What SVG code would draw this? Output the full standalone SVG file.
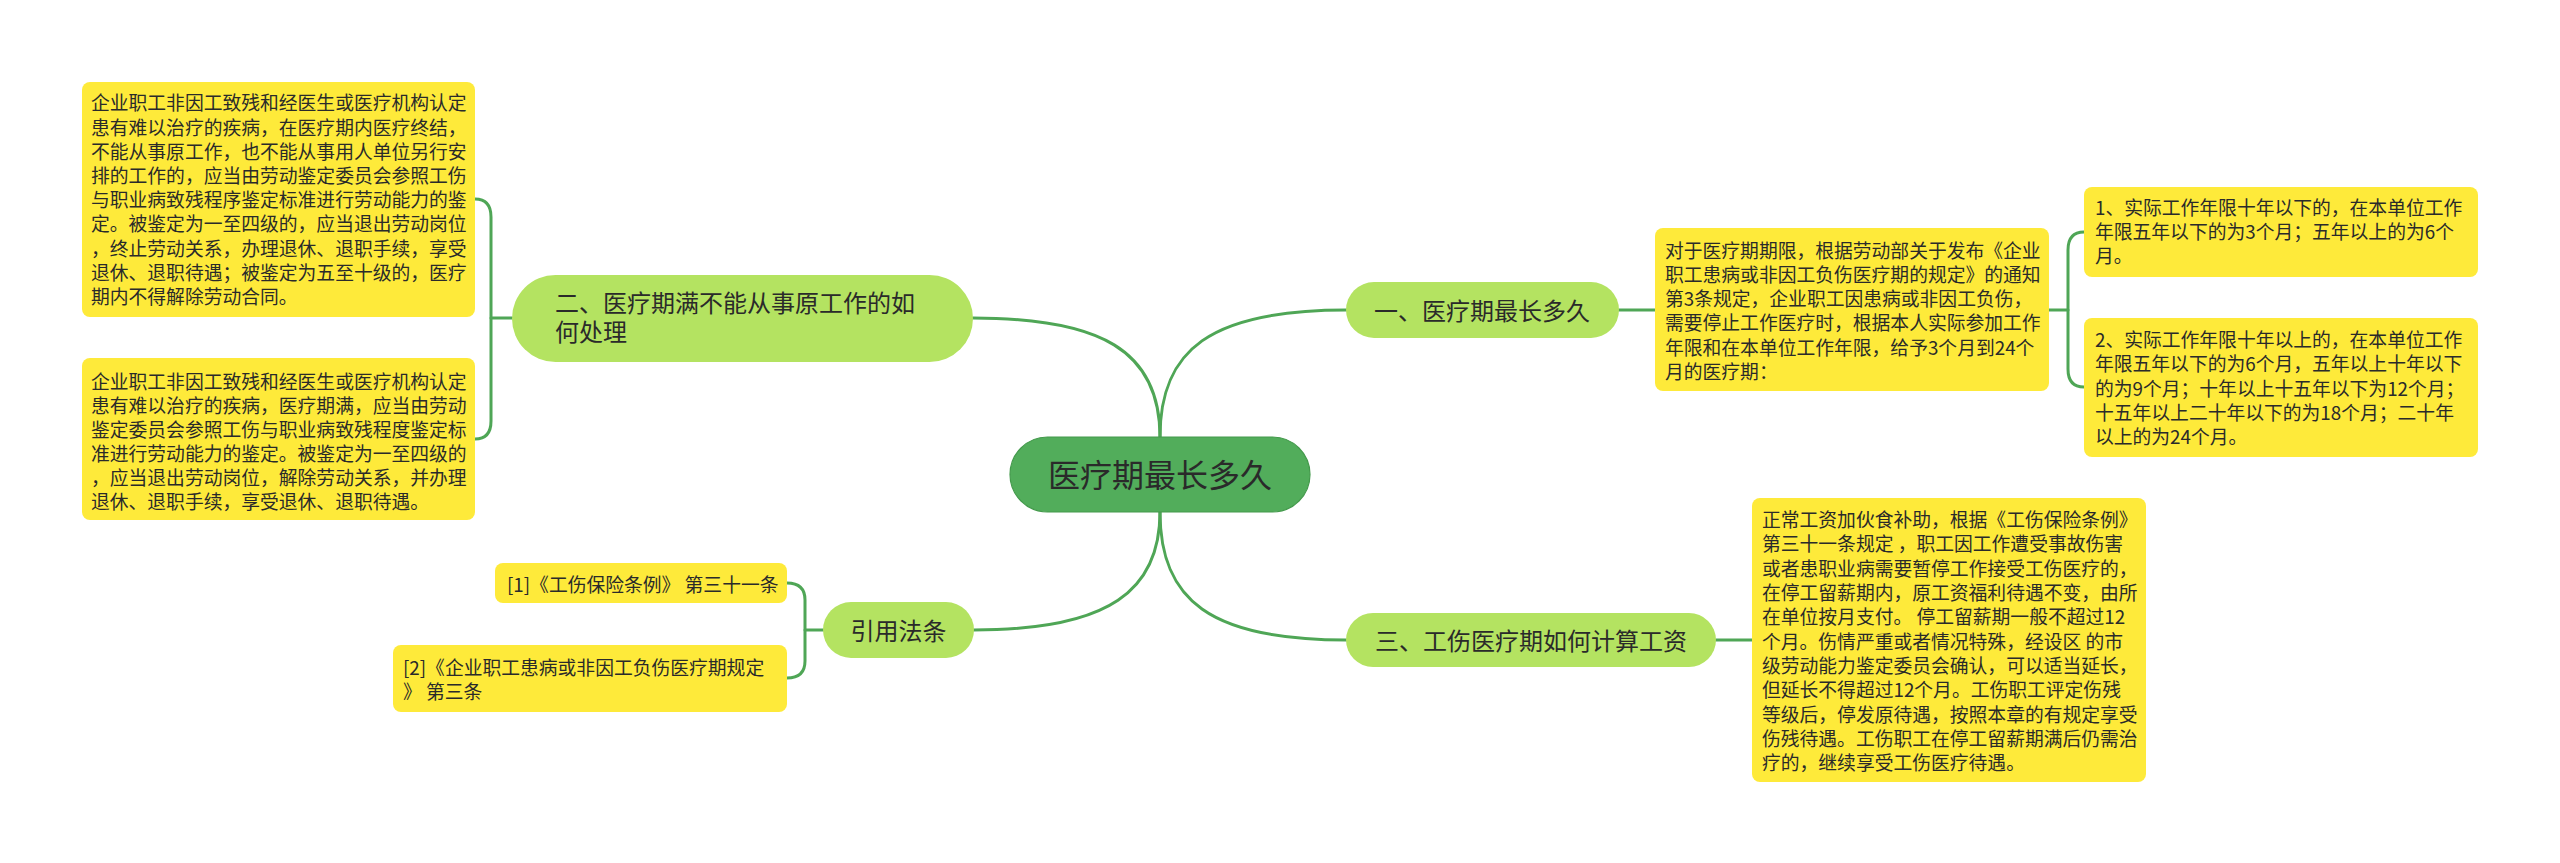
<svg xmlns="http://www.w3.org/2000/svg" width="2560" height="863" viewBox="0 0 2560 863">
<style>
.bg{fill:#ffffff}
.conn{fill:none;stroke:#4fa656;stroke-width:3;stroke-linecap:round}
.root{fill:#52ad5b;stroke:#449a4c;stroke-width:1.2}
.branch{fill:#b4e361}
.leaf{fill:#feea3a}
text{font-family:"Noto Sans CJK SC","Liberation Sans",sans-serif;fill:#2a2a2a}
.t-root{font-size:32px;text-anchor:middle}
.t-branch{font-size:24px}
.t-mid{text-anchor:middle}
.t-leaf{font-size:18.8px}
</style>
<rect class="bg" x="0" y="0" width="2560" height="863"/>

<g id="connectors">
  <path class="conn" d="M1160,437 C1160,350 1210,310 1346,310"/>
  <path class="conn" d="M1160,437 C1160,350 1100,318 973,318"/>
  <path class="conn" d="M1160,512 C1160,600 1210,640 1346,640"/>
  <path class="conn" d="M1160,512 C1160,590 1110,630 974,630"/>
  <path class="conn" d="M1619,310 L1655,310"/>
  <path class="conn" d="M2049,310 L2068,310"/>
  <path class="conn" d="M2084,232 Q2068,232 2068,250 L2068,369 Q2068,387 2084,387"/>
  <path class="conn" d="M1716,640 L1752,640"/>
  <path class="conn" d="M512,318 L491,318"/>
  <path class="conn" d="M475,199 Q491,199 491,217 L491,421 Q491,439 475,439"/>
  <path class="conn" d="M823,630 L805,630"/>
  <path class="conn" d="M787,583 Q805,583 805,600 L805,661 Q805,678 787,678"/>
</g>

<g id="root">
  <rect class="root" x="1010" y="437" width="300" height="75" rx="37.5"/>
  <text class="t-root" x="1160" y="487">医疗期最长多久</text>
</g>

<g id="branch1">
  <rect class="branch" x="1346" y="282" width="273" height="56" rx="28"/>
  <text class="t-branch t-mid" x="1482" y="319.5">一、医疗期最长多久</text>
</g>

<g id="branch2">
  <rect class="branch" x="512" y="275" width="461" height="87" rx="43.5"/>
  <text class="t-branch" x="555" y="312.4">二、医疗期满不能从事原工作的如</text>
  <text class="t-branch" x="555" y="340.8">何处理</text>
</g>

<g id="branch3">
  <rect class="branch" x="1346" y="613" width="370" height="54" rx="27"/>
  <text class="t-branch t-mid" x="1531" y="649.5">三、工伤医疗期如何计算工资</text>
</g>

<g id="branch4">
  <rect class="branch" x="823" y="602" width="151" height="56" rx="28"/>
  <text class="t-branch t-mid" x="898.5" y="639.5">引用法条</text>
</g>

<g id="leaf-b1-main">
  <rect class="leaf" x="1655" y="228" width="394" height="163" rx="8"/>
  <text class="t-leaf" x="1665" y="257.8">对于医疗期期限，根据劳动部关于发布《企业</text>
  <text class="t-leaf" x="1665" y="282">职工患病或非因工负伤医疗期的规定》的通知</text>
  <text class="t-leaf" x="1665" y="306.2">第3条规定，企业职工因患病或非因工负伤，</text>
  <text class="t-leaf" x="1665" y="330.4">需要停止工作医疗时，根据本人实际参加工作</text>
  <text class="t-leaf" x="1665" y="354.6">年限和在本单位工作年限，给予3个月到24个</text>
  <text class="t-leaf" x="1665" y="378.8">月的医疗期：</text>
</g>

<g id="leaf-b1-a">
  <rect class="leaf" x="2084" y="187" width="394" height="90" rx="8"/>
  <text class="t-leaf" x="2095" y="215.4">1、实际工作年限十年以下的，在本单位工作</text>
  <text class="t-leaf" x="2095" y="239.2">年限五年以下的为3个月；五年以上的为6个</text>
  <text class="t-leaf" x="2095" y="263">月。</text>
</g>

<g id="leaf-b1-b">
  <rect class="leaf" x="2084" y="318" width="394" height="139" rx="8"/>
  <text class="t-leaf" x="2095" y="347.1">2、实际工作年限十年以上的，在本单位工作</text>
  <text class="t-leaf" x="2095" y="371.3">年限五年以下的为6个月，五年以上十年以下</text>
  <text class="t-leaf" x="2095" y="395.5">的为9个月；十年以上十五年以下为12个月；</text>
  <text class="t-leaf" x="2095" y="419.7">十五年以上二十年以下的为18个月；二十年</text>
  <text class="t-leaf" x="2095" y="443.9">以上的为24个月。</text>
</g>

<g id="leaf-b2-a">
  <rect class="leaf" x="82" y="82" width="393" height="235" rx="8"/>
  <text class="t-leaf" x="91" y="110.4">企业职工非因工致残和经医生或医疗机构认定</text>
  <text class="t-leaf" x="91" y="134.6">患有难以治疗的疾病，在医疗期内医疗终结，</text>
  <text class="t-leaf" x="91" y="158.8">不能从事原工作，也不能从事用人单位另行安</text>
  <text class="t-leaf" x="91" y="183">排的工作的，应当由劳动鉴定委员会参照工伤</text>
  <text class="t-leaf" x="91" y="207.2">与职业病致残程序鉴定标准进行劳动能力的鉴</text>
  <text class="t-leaf" x="91" y="231.4">定。被鉴定为一至四级的，应当退出劳动岗位</text>
  <text class="t-leaf" x="91" y="255.6">，终止劳动关系，办理退休、退职手续，享受</text>
  <text class="t-leaf" x="91" y="279.8">退休、退职待遇；被鉴定为五至十级的，医疗</text>
  <text class="t-leaf" x="91" y="304">期内不得解除劳动合同。</text>
</g>

<g id="leaf-b2-b">
  <rect class="leaf" x="82" y="358" width="393" height="162" rx="8"/>
  <text class="t-leaf" x="91" y="388.8">企业职工非因工致残和经医生或医疗机构认定</text>
  <text class="t-leaf" x="91" y="412.8">患有难以治疗的疾病，医疗期满，应当由劳动</text>
  <text class="t-leaf" x="91" y="436.8">鉴定委员会参照工伤与职业病致残程度鉴定标</text>
  <text class="t-leaf" x="91" y="460.8">准进行劳动能力的鉴定。被鉴定为一至四级的</text>
  <text class="t-leaf" x="91" y="484.8">，应当退出劳动岗位，解除劳动关系，并办理</text>
  <text class="t-leaf" x="91" y="508.8">退休、退职手续，享受退休、退职待遇。</text>
</g>

<g id="leaf-b3">
  <rect class="leaf" x="1752" y="498" width="394" height="284" rx="8"/>
  <text class="t-leaf" x="1762" y="527.1">正常工资加伙食补助，根据《工伤保险条例》</text>
  <text class="t-leaf" x="1762" y="551.4">第三十一条规定 ，职工因工作遭受事故伤害</text>
  <text class="t-leaf" x="1762" y="575.7">或者患职业病需要暂停工作接受工伤医疗的，</text>
  <text class="t-leaf" x="1762" y="600">在停工留薪期内，原工资福利待遇不变，由所</text>
  <text class="t-leaf" x="1762" y="624.3">在单位按月支付。 停工留薪期一般不超过12</text>
  <text class="t-leaf" x="1762" y="648.6">个月。伤情严重或者情况特殊，经设区 的市</text>
  <text class="t-leaf" x="1762" y="672.9">级劳动能力鉴定委员会确认，可以适当延长，</text>
  <text class="t-leaf" x="1762" y="697.2">但延长不得超过12个月。工伤职工评定伤残</text>
  <text class="t-leaf" x="1762" y="721.5">等级后，停发原待遇，按照本章的有规定享受</text>
  <text class="t-leaf" x="1762" y="745.8">伤残待遇。工伤职工在停工留薪期满后仍需治</text>
  <text class="t-leaf" x="1762" y="770.1">疗的，继续享受工伤医疗待遇。</text>
</g>

<g id="leaf-b4-a">
  <rect class="leaf" x="495" y="563" width="292" height="40" rx="8"/>
  <text class="t-leaf" x="507" y="592">[1]《工伤保险条例》 第三十一条</text>
</g>

<g id="leaf-b4-b">
  <rect class="leaf" x="393" y="645" width="394" height="67" rx="8"/>
  <text class="t-leaf" x="403" y="675">[2]《企业职工患病或非因工负伤医疗期规定</text>
  <text class="t-leaf" x="403" y="699">》 第三条</text>
</g>
</svg>
